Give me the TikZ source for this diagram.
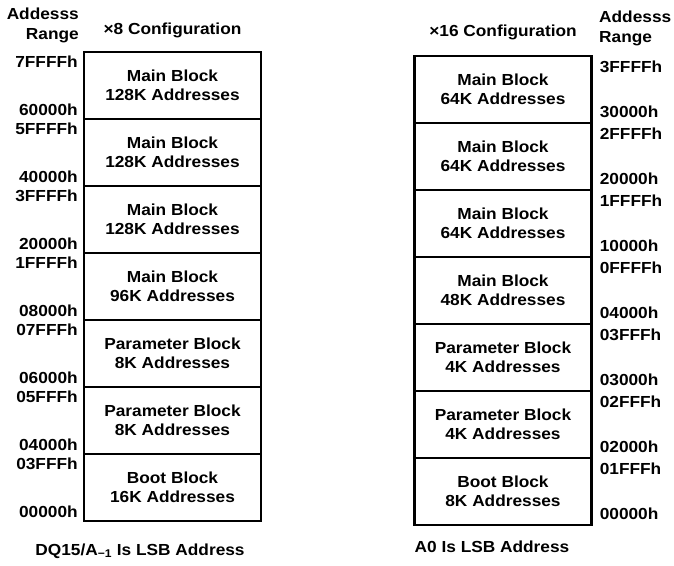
\documentclass[tikz,border=0pt]{standalone}
\usepackage{fontspec}
\newfontfamily\diagfont{Liberation Sans}[FakeStretch=1.08]
\usepackage{tikz}

\begin{document}
\begin{tikzpicture}[x=1pt, y=1pt, node distance=67pt,
    font=\diagfont\bfseries\fontsize{16}{19.5}\selectfont,
    blk/.style={draw, line width=2.2pt, minimum width=177pt, minimum height=67pt, align=center, inner sep=0pt},
    addrl/.style={anchor=base east, inner sep=0pt},
    addrr/.style={anchor=base west, inner sep=0pt},
    head/.style={inner sep=0pt}]
            \useasboundingbox (0,0) rectangle (674,565);

            % x8 configuration
            \node[blk] (l1) at (172.5,479.5) {Main Block\\128K Addresses};
            \node[blk, below of=l1] (l2) {Main Block\\128K Addresses};
            \node[blk, below of=l2] (l3) {Main Block\\128K Addresses};
            \node[blk, below of=l3] (l4) {Main Block\\96K Addresses};
            \node[blk, below of=l4] (l5) {Parameter Block\\8K Addresses};
            \node[blk, below of=l5] (l6) {Parameter Block\\8K Addresses};
            \node[blk, below of=l6] (l7) {Boot Block\\16K Addresses};

            % x8 address ranges
            \node[addrl] (l1hi) at ([xshift=-5pt, yshift=-17pt]l1.north west) {7FFFFh};
            \node[addrl] (l1lo) at ([xshift=-5pt, yshift=5pt]l1.south west) {60000h};
            \node[addrl] (l2hi) at ([xshift=-5pt, yshift=-17pt]l2.north west) {5FFFFh};
            \node[addrl] (l2lo) at ([xshift=-5pt, yshift=5pt]l2.south west) {40000h};
            \node[addrl] (l3hi) at ([xshift=-5pt, yshift=-17pt]l3.north west) {3FFFFh};
            \node[addrl] (l3lo) at ([xshift=-5pt, yshift=5pt]l3.south west) {20000h};
            \node[addrl] (l4hi) at ([xshift=-5pt, yshift=-17pt]l4.north west) {1FFFFh};
            \node[addrl] (l4lo) at ([xshift=-5pt, yshift=5pt]l4.south west) {08000h};
            \node[addrl] (l5hi) at ([xshift=-5pt, yshift=-17pt]l5.north west) {07FFFh};
            \node[addrl] (l5lo) at ([xshift=-5pt, yshift=5pt]l5.south west) {06000h};
            \node[addrl] (l6hi) at ([xshift=-5pt, yshift=-17pt]l6.north west) {05FFFh};
            \node[addrl] (l6lo) at ([xshift=-5pt, yshift=5pt]l6.south west) {04000h};
            \node[addrl] (l7hi) at ([xshift=-5pt, yshift=-17pt]l7.north west) {03FFFh};
            \node[addrl] (l7lo) at ([xshift=-5pt, yshift=5pt]l7.south west) {00000h};

            % x16 configuration
            \node[blk] (r1) at (503,475.5) {Main Block\\64K Addresses};
            \node[blk, below of=r1] (r2) {Main Block\\64K Addresses};
            \node[blk, below of=r2] (r3) {Main Block\\64K Addresses};
            \node[blk, below of=r3] (r4) {Main Block\\48K Addresses};
            \node[blk, below of=r4] (r5) {Parameter Block\\4K Addresses};
            \node[blk, below of=r5] (r6) {Parameter Block\\4K Addresses};
            \node[blk, below of=r6] (r7) {Boot Block\\8K Addresses};

            % x16 address ranges
            \node[addrr] (r1hi) at ([xshift=7pt, yshift=-18pt]r1.north east) {3FFFFh};
            \node[addrr] (r1lo) at ([xshift=7pt, yshift=7pt]r1.south east) {30000h};
            \node[addrr] (r2hi) at ([xshift=7pt, yshift=-18pt]r2.north east) {2FFFFh};
            \node[addrr] (r2lo) at ([xshift=7pt, yshift=7pt]r2.south east) {20000h};
            \node[addrr] (r3hi) at ([xshift=7pt, yshift=-18pt]r3.north east) {1FFFFh};
            \node[addrr] (r3lo) at ([xshift=7pt, yshift=7pt]r3.south east) {10000h};
            \node[addrr] (r4hi) at ([xshift=7pt, yshift=-18pt]r4.north east) {0FFFFh};
            \node[addrr] (r4lo) at ([xshift=7pt, yshift=7pt]r4.south east) {04000h};
            \node[addrr] (r5hi) at ([xshift=7pt, yshift=-18pt]r5.north east) {03FFFh};
            \node[addrr] (r5lo) at ([xshift=7pt, yshift=7pt]r5.south east) {03000h};
            \node[addrr] (r6hi) at ([xshift=7pt, yshift=-18pt]r6.north east) {02FFFh};
            \node[addrr] (r6lo) at ([xshift=7pt, yshift=7pt]r6.south east) {02000h};
            \node[addrr] (r7hi) at ([xshift=7pt, yshift=-18pt]r7.north east) {01FFFh};
            \node[addrr] (r7lo) at ([xshift=7pt, yshift=7pt]r7.south east) {00000h};

            % Headings
            \node[head, anchor=north east, align=right] (lrange) at (79,557) {Addesss\\Range};
            \node[head, anchor=base] (lconf) at (172.5,530) {×8 Configuration};
            \node[head, anchor=base] (rconf) at (503,528) {×16 Configuration};
            \node[head, anchor=north west, align=left] (rrange) at (599,554) {Addesss\\Range};

            % Notes
            \node[head, anchor=base] (lnote) at (140,10) {DQ15/A\textsubscript{−1} Is LSB Address};
            \node[head, anchor=base] (rnote) at (492,13) {A0 Is LSB Address};
        \end{tikzpicture}
\end{document}
